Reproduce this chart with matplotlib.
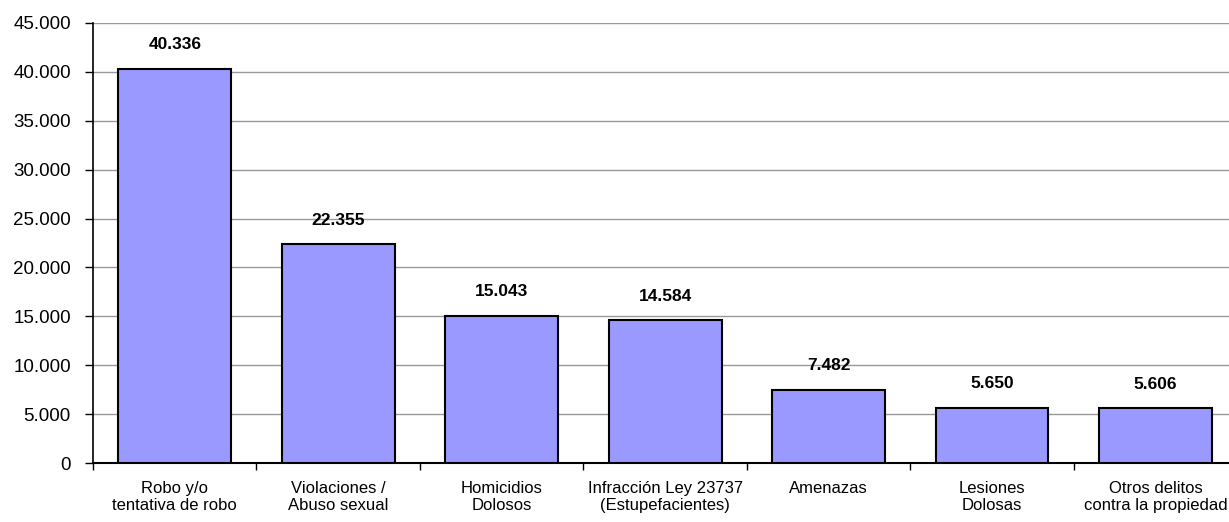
import matplotlib.pyplot as plt
import numpy as np

plt.rcParams['font.family'] = ['Liberation Sans', 'DejaVu Sans']

categories = ['Robo y/o\ntentativa de robo', 'Violaciones /\nAbuso sexual', 'Homicidios\nDolosos',
              'Infracción Ley 23737\n(Estupefacientes)', 'Amenazas', 'Lesiones\nDolosas',
              'Otros delitos\ncontra la propiedad']
values = [40336, 22355, 15043, 14584, 7482, 5650, 5606]
value_labels = ['40.336', '22.355', '15.043', '14.584', '7.482', '5.650', '5.606']
yticks = [0, 5000, 10000, 15000, 20000, 25000, 30000, 35000, 40000, 45000]
ytick_labels = ['0', '5.000', '10.000', '15.000', '20.000', '25.000', '30.000', '35.000', '40.000', '45.000']

fig = plt.figure(figsize=(12.29, 5.22), dpi=100)
ax = fig.add_axes([0.0757, 0.113, 0.931, 0.843])

x = np.arange(len(categories))
ax.bar(x, values, width=0.69, color='#9999FF', edgecolor='black', linewidth=1.5, zorder=3)
for xi, v, lab in zip(x, values, value_labels):
    ax.annotate(lab, (xi, v), xytext=(0, 12), textcoords='offset points',
                ha='center', va='bottom', fontsize=12.5, fontweight='bold')

ax.set_xlim(-0.5, len(categories) - 0.5)
ax.set_ylim(0, 45000)
ax.set_yticks(yticks)
ax.set_yticklabels(ytick_labels, fontsize=13.5)
ax.yaxis.grid(True, color='#999999', linewidth=1, zorder=0)

ax.set_xticks(x)
ax.set_xticklabels(categories, fontsize=12, linespacing=1.15)
ax.tick_params(axis='x', length=0, pad=13)
ax.set_xticks(np.arange(len(categories) + 1) - 0.5, minor=True)
ax.tick_params(axis='x', which='minor', length=5, width=1)
ax.tick_params(axis='y', length=6, width=1, pad=10)

ax.spines['top'].set_visible(False)
ax.spines['right'].set_visible(False)
ax.spines['left'].set_linewidth(1.2)
ax.spines['bottom'].set_linewidth(1.5)

fig.savefig('out.png', dpi=100)
